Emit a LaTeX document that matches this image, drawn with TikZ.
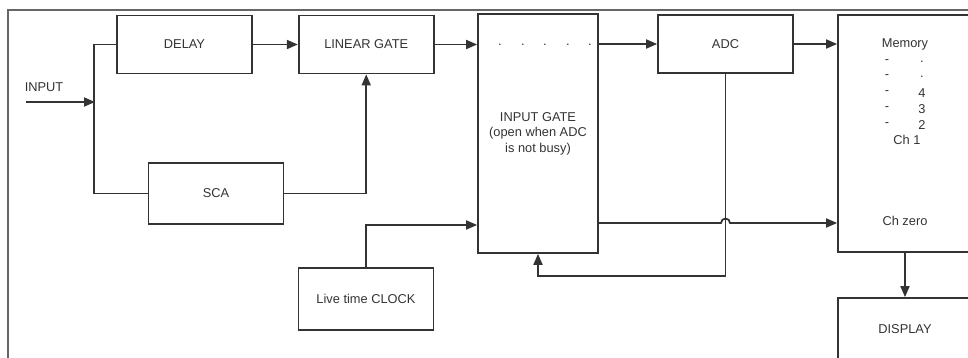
\documentclass[tikz,border=0pt]{standalone}
\usepackage{fontspec}
\setmainfont{Liberation Sans}
\usetikzlibrary{positioning,arrows.meta}

\begin{document}
\begin{tikzpicture}[x=0.02cm, y=-0.02cm, line width=1pt, draw=black!80,
  >={Triangle[length=2.2mm,width=1.8mm]},
  every node/.style={font=\fontsize{7.3}{8.8}\selectfont, text=black!80},
  blk/.style={draw, minimum width=2.7cm, minimum height=1.16cm, inner sep=1pt, align=center}]
\clip (0,0) rectangle (968,358);
\draw[black!60, line width=0.7pt] (8,10) rectangle (1000,420);
% blocks
\node[blk] (delay) at (184.5,44.5) {DELAY};
\node[blk, right=0.9cm of delay] (lingate) {LINEAR GATE};
\node[blk, minimum height=1.22cm] (sca) at (216,193.5) {SCA};
\node[blk, minimum height=1.24cm] (clock) at (366,299) {Live time CLOCK};
\node[blk, minimum width=2.4cm, minimum height=4.78cm] (ingate) at (538,133.5) {INPUT GATE\\(open when ADC\\is not busy)};
\node[blk] (adc) at (725.5,44) {ADC};
\node[blk, minimum width=2.68cm, minimum height=4.74cm] (memory) at (905,133.5) {};
\node[blk, minimum width=2.68cm, minimum height=1.24cm] (display) at (905,329) {DISPLAY};
% texts inside the gate and the memory
\foreach \x [count=\i] in {500,523,545,568,590}
  \node[inner sep=0pt] (gdot\i) at (\x,44.5) {.};
\node (memtitle) at (905,44) {Memory};
\foreach \y/\n [count=\i] in {62/.,77/.,93/4,109/3,125/2} {
  \node[inner sep=0pt] (mdash\i) at (887,\y) {-};
  \node[inner sep=0pt] (mnum\i) at (922,\y) {\n};
}
\node (chone) at (907,140) {Ch 1};
\node (chzero) at (905,221) {Ch zero};
% input
\node (inlabel) at (44,87) {INPUT};
\coordinate (inp) at (26,102);
\coordinate (split) at (95,102);
\coordinate (clklvl) at (0,225);
\coordinate (memlvl) at (0,223);
\draw[->] (inp) -- (split);
\draw (delay.west) -- ++(-22,0) |- (sca.west);
% connectors
\draw[->] (delay) -- (lingate);
\draw[->] (sca.east) -| (lingate.south);
\draw[->] (lingate.east) -- (lingate.east -| ingate.west);
\draw[->] (clock.north) |- (ingate.west |- clklvl);
\draw[->] (ingate.east |- adc) -- (adc.west);
\draw[->] (adc.east) -- (adc.east -| memory.west);
\draw[->] (adc.south) -- ++(0,202) -| (ingate.south);
\coordinate (hop) at (adc.south |- memlvl);
\draw[->] (ingate.east |- memlvl) -- ([xshift=-0.09cm]hop) arc[start angle=180, end angle=0, radius=0.09cm] -- (memory.west |- memlvl);
\draw[->] (memory) -- (display);
\end{tikzpicture}
\end{document}
